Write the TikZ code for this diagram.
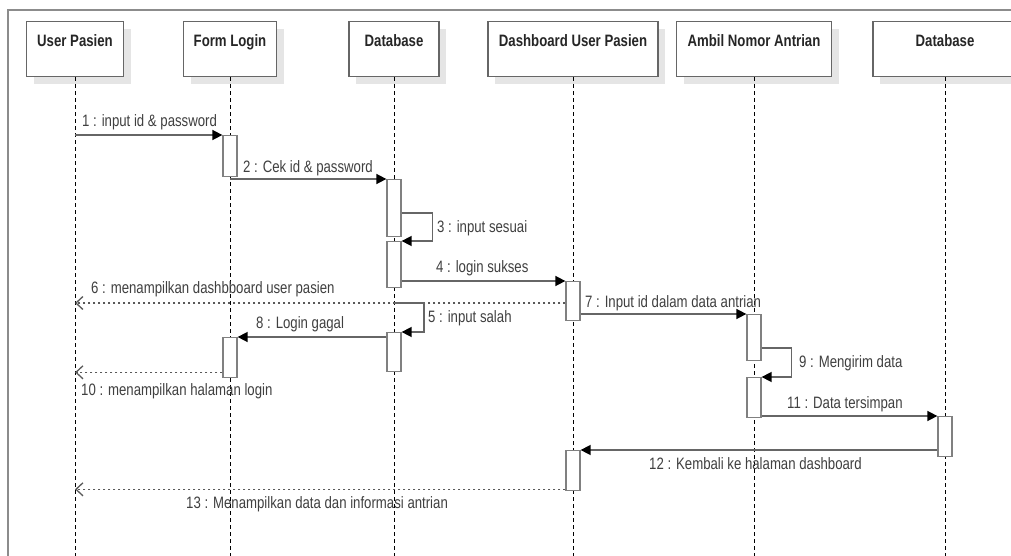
\documentclass[tikz,border=0pt]{standalone}
\usepackage{fontspec}
\setmainfont{Liberation Sans}[FakeStretch=0.8]
\usepackage{tikz}
\usetikzlibrary{arrows.meta, positioning, calc}

\begin{document}
\begin{tikzpicture}[x=1pt, y=-1pt,
  head/.style={rectangle, draw=black!60, fill=white, line width=1.3pt, anchor=north,
    minimum height=55pt, inner xsep=0pt, inner ysep=11pt, text height=13pt, text depth=19pt,
    font=\fontsize{16.5}{19}\selectfont\bfseries, text=black!85,
    preaction={fill=black!10, draw=none, transform canvas={shift={(7pt,-7pt)}}}},
  act/.style={rectangle, draw=black!50, fill=white, line width=1.3pt, anchor=north,
    minimum width=14pt, inner sep=0pt},
  life/.style={black, line width=1pt, dash pattern=on 4pt off 3pt},
  msg/.style={draw=black!60, line width=1.6pt, -{Triangle[length=10pt, width=10pt, color=black]}},
  ret/.style={draw=black!65, line width=1.6pt, dash pattern=on 2.5pt off 2.5pt,
    -{Straight Barb[length=7pt, width=13pt, line width=1.3pt]}},
  lbl/.style={anchor=base west, inner sep=0pt, font=\fontsize{16.5}{19}\selectfont, text=black!75}
]
\useasboundingbox (0,0) rectangle (1011,556);
\clip (0,0) rectangle (1011,556);
\fill[white] (0,0) rectangle (1011,556);

% Frame
\draw[black!45, line width=2pt] (8,600) -- (8,10) -- (1030,10);

% Lifeline heads
\node[head, minimum width=97pt] (user) at (75,21) {User Pasien};
\node[head, minimum width=93pt] (formlogin) at (230,21) {Form Login};
\node[head, minimum width=90pt] (database) at (394,21) {Database};
\node[head, minimum width=170pt] (dashboard) at (573,21) {Dashboard User Pasien};
\node[head, minimum width=155pt] (ambil) at (754,21) {Ambil Nomor Antrian};
\node[head, minimum width=144pt] (database2) at (945,21) {Database};

% Lifelines
\foreach \h in {user, formlogin, database, dashboard, ambil, database2}
  \draw[life] (\h.south) -- (\h.south |- 0,560);

% Activations
\node[act, minimum height=41pt] (fl1) at (230,135) {};
\node[act, minimum height=57pt] (db1) at (394,179) {};
\node[act, minimum height=46pt] (db2) at (394,241) {};
\node[act, minimum height=39pt] (dash1) at (573,281) {};
\node[act, minimum height=39pt] (db3) at (394,332) {};
\node[act, minimum height=46pt] (ambil1) at (754,314) {};
\node[act, minimum height=40pt] (fl2) at (230,337) {};
\node[act, minimum height=40pt] (ambil2) at (754,377) {};
\node[act, minimum height=40pt] (dbr1) at (945,416) {};
\node[act, minimum height=40pt] (dash2) at (573,450) {};

% Messages
\draw[msg] (user |- fl1.north) -- (fl1.north west);
\node[lbl] (m1) at (82,127) {1 : input id \& password};

\draw[msg] (formlogin |- db1.north) -- (db1.north west);
\node[lbl] (m2) at (243,172) {2 : Cek id \& password};

\draw[msg] ([yshift=-34pt]db1.north east) -- ++(31,0) |- (db2.north east);
\node[lbl] (m3) at (437,232) {3 : input sesuai};

\draw[msg] (dash1.north west -| db2.east) -- (dash1.north west);
\node[lbl] (m4) at (436,272) {4 : login sukses};

\coordinate (r6) at ([yshift=-22pt]dash1.north west);
\draw[ret] (r6) -- (r6 -| user);
\node[lbl] (m6) at (91,293) {6 : menampilkan dashbboard user pasien};

\draw[msg] (r6 -| database) -- ++(30,0) |- (db3.north east);
\node[lbl] (m5) at (428,322) {5 : input salah};

\draw[msg] (ambil1.north west -| dash1.east) -- (ambil1.north west);
\node[lbl] (m7) at (585,307) {7 : Input id dalam data antrian};

\draw[msg] (fl2.north east -| db3.west) -- (fl2.north east);
\node[lbl] (m8) at (256,328) {8 : Login gagal};

\coordinate (r10) at ([yshift=6pt]fl2.south west);
\draw[ret] (r10) -- (r10 -| user);
\node[lbl] (m10) at (81,395) {10 : menampilkan halaman login};

\draw[msg] ([yshift=-34pt]ambil1.north east) -- ++(30,0) |- (ambil2.north east);
\node[lbl] (m9) at (799,367) {9 : Mengirim data};

\draw[msg] (dbr1.north west -| ambil2.east) -- (dbr1.north west);
\node[lbl] (m11) at (787,408) {11 : Data tersimpan};

\draw[msg] (dash2.north east -| dbr1.west) -- (dash2.north east);
\node[lbl] (m12) at (649,469) {12 : Kembali ke halaman dashboard};

\coordinate (r13) at ([yshift=2pt]dash2.south west);
\draw[ret] (r13) -- (r13 -| user);
\node[lbl] (m13) at (186,508) {13 : Menampilkan data dan informasi antrian};
\end{tikzpicture}
\end{document}
